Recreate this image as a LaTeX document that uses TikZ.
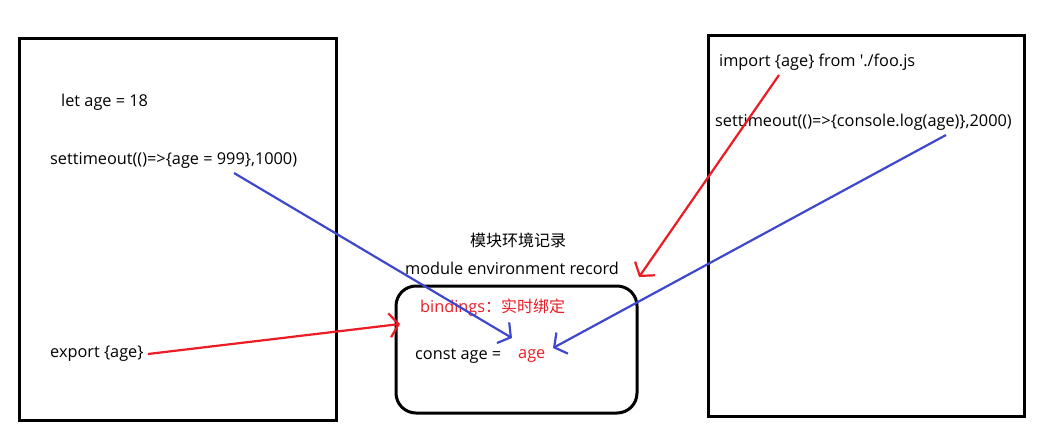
\documentclass[tikz,border=0pt]{standalone}
\usepackage{fontspec}
\newfontfamily\codefont{Open Sans}
\newfontfamily\cjk{Noto Sans CJK SC}
\usetikzlibrary{arrows.meta}
\definecolor{pred}{RGB}{237,28,36}
\definecolor{pblue}{RGB}{63,72,204}
\tikzset{
  frame/.style={draw=black,line width=3pt},
  code/.style={anchor=west,inner sep=0pt,font=\codefont\fontsize{16.3}{19}\selectfont},
  redarrow/.style={draw=pred,line width=2.2pt,-{Straight Barb[length=9pt,width=24pt]}},
  bluearrow/.style={draw=pblue,line width=2.2pt,-{Straight Barb[length=9pt,width=24pt]}},
}
\begin{document}
\begin{tikzpicture}[x=1pt,y=-1pt]
\useasboundingbox[fill=white] (0,0) rectangle (1049,444);
% boxes
\draw[frame] (19,39) rectangle (336,420);
\draw[frame] (708,36) rectangle (1024,416);
\draw[frame,rounded corners=20pt] (396,286) rectangle (637,413);
% left texts
\node[code] (let) at (61,102) {let age = 18};
\node[code] (st1) at (50,160) {settimeout(()=>\{age = 999\},1000)};
\node[code] (exp) at (50,354) {export \{age\}};
% right texts
\node[code] (imp) at (719,62) {import \{age\} from './foo.js};
\node[code] (st2) at (715,122) {settimeout(()=>\{console.log(age)\},2000)};
% middle texts
\node[code,anchor=center,font=\cjk\fontsize{16}{19}\selectfont] (zh) at (518,240) {模块环境记录};
\node[code,anchor=center] (mer) at (512,268) {module environment record};
\node[code,text=pred] (bind) at (420,308) {bindings{\cjk\fontsize{16}{19}\selectfont：实时绑定}};
\node[code] (const) at (415,356) {const age =};
\node[code,text=pred] (agev) at (518,356) {age};
% arrow endpoints
\coordinate (s1) at (234,173);
\coordinate (e1) at (512,338);
\coordinate (s2) at (148,354);
\coordinate (e2) at (400,324);
\coordinate (s3) at (779,75);
\coordinate (e3) at (639,277);
\coordinate (s4) at (946,135);
\coordinate (e4) at (553,348);
\draw[bluearrow] (s1) -- (e1);
\draw[redarrow] (s2) -- (e2);
\draw[redarrow] (s3) -- (e3);
\draw[bluearrow] (s4) -- (e4);
\end{tikzpicture}
\end{document}
